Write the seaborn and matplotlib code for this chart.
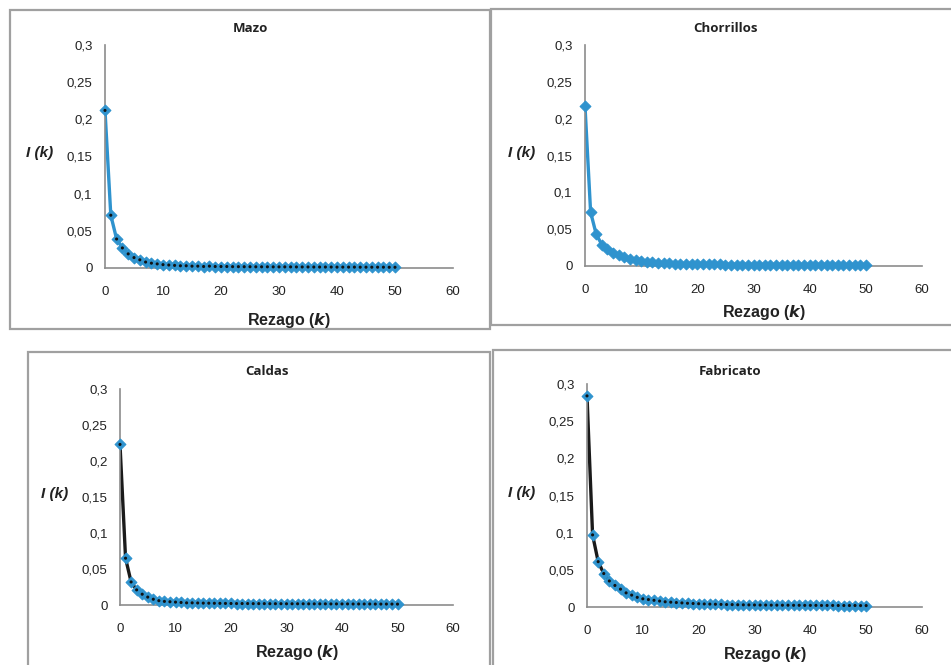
import matplotlib
matplotlib.use("Agg")
import matplotlib.pyplot as plt
import numpy as np
import pandas as pd
import seaborn as sns
from matplotlib.patches import Rectangle
from matplotlib.ticker import FuncFormatter

lags = list(range(51))

mazo = [0.212, 0.071, 0.039, 0.027, 0.019, 0.014, 0.011, 0.008, 0.0065, 0.0055,
        0.0045, 0.004, 0.0035, 0.003, 0.003, 0.0025, 0.0025, 0.002, 0.0025, 0.002,
        0.002, 0.002, 0.0018, 0.0018, 0.0017, 0.0017, 0.0016, 0.0016, 0.0016, 0.0015,
        0.0015, 0.0015, 0.0015, 0.0014, 0.0014, 0.0014, 0.0013, 0.0013, 0.0013, 0.0013,
        0.0012, 0.0012, 0.0012, 0.0012, 0.0011, 0.0011, 0.0011, 0.0011, 0.0011, 0.001,
        0.001]
chorrillos = [0.217, 0.073, 0.043, 0.029, 0.023, 0.018, 0.015, 0.012, 0.010, 0.008,
              0.007, 0.006, 0.005, 0.0045, 0.004, 0.0035, 0.003, 0.003, 0.0028, 0.0026,
              0.0025, 0.0024, 0.0023, 0.0022, 0.0021, 0.002, 0.002, 0.002, 0.0019, 0.0019,
              0.0018, 0.0018, 0.0018, 0.0017, 0.0017, 0.0017, 0.0016, 0.0016, 0.0016, 0.0015,
              0.0015, 0.0015, 0.0015, 0.0014, 0.0014, 0.0014, 0.0014, 0.0013, 0.0013, 0.0013,
              0.0012]
caldas = [0.223, 0.065, 0.032, 0.021, 0.015, 0.011, 0.008, 0.006, 0.005, 0.0045,
          0.004, 0.0035, 0.003, 0.003, 0.0028, 0.0026, 0.0025, 0.0024, 0.0023, 0.0022,
          0.0021, 0.002, 0.002, 0.002, 0.0019, 0.0019, 0.0019, 0.0018, 0.0018, 0.0018,
          0.0017, 0.0017, 0.0017, 0.0017, 0.0016, 0.0016, 0.0016, 0.0016, 0.0015, 0.0015,
          0.0015, 0.0015, 0.0014, 0.0014, 0.0014, 0.0014, 0.0013, 0.0013, 0.0013, 0.0013,
          0.0012]
fabricato = [0.284, 0.097, 0.061, 0.045, 0.035, 0.029, 0.024, 0.019, 0.016, 0.013,
             0.011, 0.010, 0.009, 0.008, 0.007, 0.0065, 0.006, 0.0055, 0.005, 0.0047,
             0.0044, 0.0041, 0.0039, 0.0037, 0.0035, 0.0033, 0.0032, 0.003, 0.0029, 0.0028,
             0.0027, 0.0026, 0.0026, 0.0025, 0.0025, 0.0024, 0.0024, 0.0023, 0.0023, 0.0022,
             0.0022, 0.0022, 0.0021, 0.0021, 0.0021, 0.002, 0.002, 0.002, 0.002, 0.0019,
             0.0019]

BLUE = "#2F93CE"
W, H = 951, 665

# name, series, axes box (left, right, top, bottom in px), line colour, centre dot,
# title x/y, ylabel x, xlabel y, panel border (x0, y0, x1, y1)
panels = [
    ("Mazo", mazo, (105, 453, 45, 268), BLUE, True, 250, 28, 40, 320, (10, 10, 490, 329)),
    ("Chorrillos", chorrillos, (585, 922, 45, 266), BLUE, False, 726, 28, 522, 313, (491, 9, 955, 325)),
    ("Caldas", caldas, (120, 453, 389, 605), "#1a1a1a", True, 267, 372, 55, 652, (28, 352, 490, 670)),
    ("Fabricato", fabricato, (587, 922, 384, 607), "#1a1a1a", True, 730, 372, 522, 654, (493, 350, 955, 670)),
]

sns.set_style("white")
plt.rcParams["font.family"] = ["Liberation Sans", "DejaVu Sans"]

fig = plt.figure(figsize=(W / 100, H / 100), dpi=100)
comma = FuncFormatter(lambda v, _: "0" if v == 0 else f"{v:g}".replace(".", ","))

for name, vals, (l, r, t, b), lc, dot, tx, ty, ylx, xly, (bx0, by0, bx1, by1) in panels:
    fig.patches.append(Rectangle((bx0 / W, 1 - by1 / H), (bx1 - bx0) / W, (by1 - by0) / H,
                                 transform=fig.transFigure, fill=False,
                                 edgecolor="#a0a0a0", linewidth=1.6))
    ax = fig.add_axes([l / W, 1 - b / H, (r - l) / W, (b - t) / H])
    df = pd.DataFrame({"k": lags, "I": vals})
    sns.lineplot(data=df, x="k", y="I", color=lc, linewidth=2.4, ax=ax)
    sns.scatterplot(data=df, x="k", y="I", marker="D", s=30, color=BLUE,
                    edgecolor=BLUE, linewidth=0.8, ax=ax, zorder=3, clip_on=False)
    if dot:
        sns.scatterplot(data=df, x="k", y="I", marker="o", s=5, color="#111111",
                        edgecolor="none", ax=ax, zorder=4, clip_on=False)
    ax.set_xlim(0, 60)
    ax.set_ylim(0, 0.3)
    ax.set_xticks(np.arange(0, 61, 10))
    ax.set_yticks(np.arange(0, 0.31, 0.05))
    ax.yaxis.set_major_formatter(comma)
    ax.set_xlabel("")
    ax.set_ylabel("")
    for s in ["top", "right"]:
        ax.spines[s].set_visible(False)
    for s in ["left", "bottom"]:
        ax.spines[s].set_color("#8c8c8c")
        ax.spines[s].set_linewidth(1.2)
    ax.tick_params(axis="both", direction="out", length=4, width=1, color="#8c8c8c",
                   labelsize=9.5, labelcolor="#222222")
    ax.tick_params(axis="x", pad=9)
    ax.tick_params(axis="y", pad=5)
    ax.patch.set_alpha(0)
    fig.text(tx / W, 1 - ty / H, name, ha="center", va="center",
             fontsize=9.5, fontweight="bold", family=["Open Sans", "DejaVu Sans"], color="#222222")
    fig.text((l + r) / 2 / W + 10 / W, 1 - xly / H, r"Rezago ($\boldsymbol{k}$)", ha="center",
             va="center", fontsize=11.5, fontweight="bold", color="#222222")
    fig.text(ylx / W, 1 - ((t + b) / 2 - 3) / H, "I (k)", ha="center", va="center",
             fontsize=11, fontweight="bold", style="italic", color="#222222")

fig.savefig("out.png", dpi=100)
